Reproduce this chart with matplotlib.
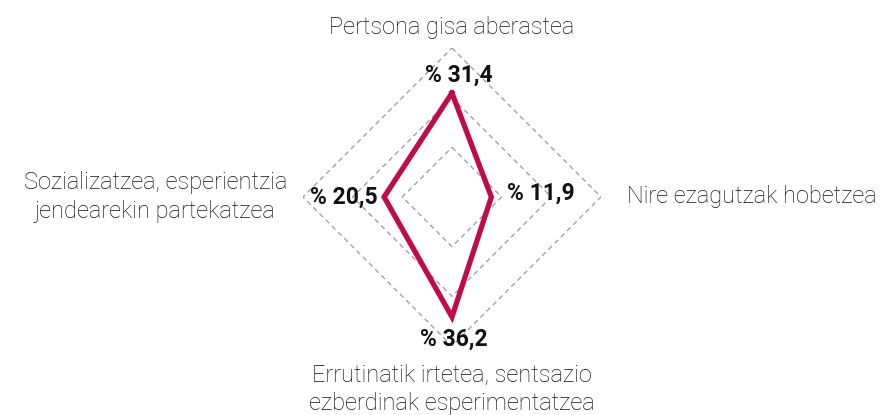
import numpy as np
import matplotlib.pyplot as plt

categories = [
    "Pertsona gisa aberastea",
    "Nire ezagutzak hobetzea",
    "Errutinatik irtetea, sentsazio\nezberdinak esperimentatzea",
    "Sozializatzea, esperientzia\njendearekin partekatzea",
]
values = [31.4, 11.9, 36.2, 20.5]
value_labels = ["% 31,4", "% 11,9", "% 36,2", "% 20,5"]
grid_levels = [15, 30, 45]

LINE_COLOR = "#c20a47"
GRID_COLOR = "#9a9a9a"

plt.rcParams["font.family"] = ["Roboto", "DejaVu Sans"]

fig = plt.figure(figsize=(8.89, 4.15), dpi=100)
ax = fig.add_axes([0.3408, 0.1663, 0.3352, 0.7181], projection="polar")
ax.set_theta_zero_location("N")
ax.set_theta_direction(-1)
ax.set_rlim(0, 45)
ax.grid(False)
ax.set_xticks([])
ax.set_yticks([])
ax.spines["polar"].set_visible(False)
ax.patch.set_alpha(0)

theta = np.linspace(0, 2 * np.pi, len(categories), endpoint=False)
closed = np.append(theta, theta[0])

for level in grid_levels:
    ax.plot(closed, [level] * len(closed), color=GRID_COLOR, lw=0.9,
            ls=(0, (4, 3)), zorder=1)

ax.plot(closed, values + values[:1], color=LINE_COLOR, lw=3.8,
        solid_joinstyle="miter", zorder=3)

# value labels next to each point (offsets in points)
offsets = [((5, 13), "center", "center"),
           ((11, 3), "left", "center"),
           ((1, -16), "center", "center"),
           ((-5, 0), "right", "center")]
for t, v, txt, (off, ha, va) in zip(theta, values, value_labels, offsets):
    ax.annotate(txt, (t, v), xytext=off, textcoords="offset points",
                ha=ha, va=va, fontsize=16.5, fontweight="bold",
                color="#111111", zorder=4)

# category labels
cat_pos = [(51.2, "center", "center"),
           (53.0, "left", "center"),
           (50.2, "center", "top"),
           (49.8, "right", "center")]
for t, name, (r, ha, va) in zip(theta, categories, cat_pos):
    ax.text(t, r, name, ha=ha, va=va, multialignment="center",
            fontsize=17, fontweight="light", color="#111111",
            linespacing=1.3, clip_on=False)

fig.savefig("out.png", dpi=100)
